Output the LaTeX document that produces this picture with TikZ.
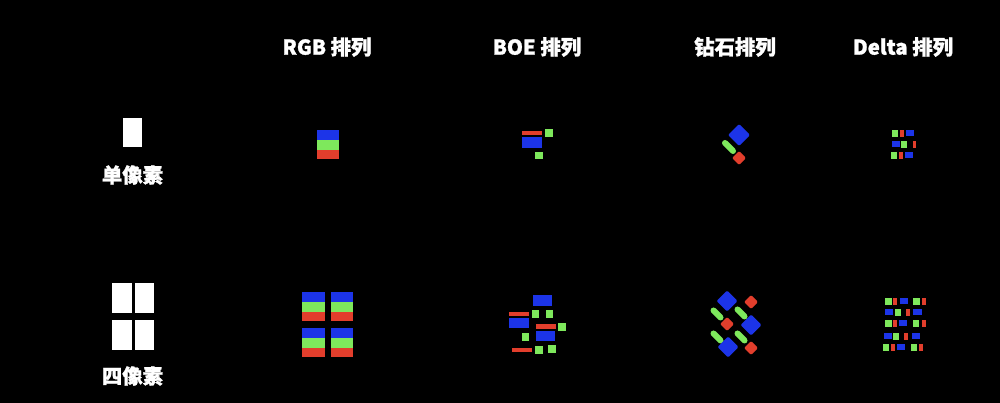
\documentclass[tikz,border=0pt]{standalone}
\usepackage{fontspec}
\newfontfamily\cjk{Noto Sans CJK SC}[BoldFeatures={FakeBold=1.3}]
\usetikzlibrary{calc}
\definecolor{pxblue}{RGB}{28,52,232}
\definecolor{pxgreen}{RGB}{126,232,92}
\definecolor{pxred}{RGB}{226,62,44}
\def\subpx[#1](#2)(#3){\fill[#1] (#2) rectangle (#3);}
\def\diapx[#1](#2,#3)(#4){\fill[#1, rounded corners=1] (#2-#4,#3) -- (#2,#3-#4) -- (#2+#4,#3) -- (#2,#3+#4) -- cycle;}
\def\pillpx(#1,#2)(#3){\draw[pxgreen, line width=1.5mm, line cap=round] (#1-#3,#2-#3) -- (#1+#3,#2+#3);}
\tikzset{
	lbl/.style={text=white, font=\cjk\bfseries\fontsize{14.5}{16}\selectfont, inner sep=0pt},
	whitepx/.style={fill=white},
}

\begin{document}
\begin{tikzpicture}[x=0.25mm, y=-0.25mm]
			%%%%% START %%%%%
			
			\fill[black] (0, 0) rectangle (1000, 403);
			\useasboundingbox (0, 0) rectangle (1000, 403);
			
			\node[lbl] (hrgb) at (327, 47) {RGB 排列};
			\node[lbl] (hboe) at (537, 47) {BOE 排列};
			\node[lbl] (hdiamond) at (735, 47) {钻石排列};
			\node[lbl] (hdelta) at (903, 47) {Delta 排列};
			
			\node[lbl] (single) at (132.5, 175) {单像素};
			\node[lbl] (quad) at (132.5, 376) {四像素};
			
			\subpx[whitepx](123, 118)(142, 147)
			\subpx[whitepx](112, 283)(132, 313)
			\subpx[whitepx](135, 283)(154, 313)
			\subpx[whitepx](112, 320)(132, 350)
			\subpx[whitepx](135, 320)(154, 350)
			
			%% RGB
			\subpx[pxblue](317, 130)(339, 140)
			\subpx[pxgreen](317, 140)(339, 150)
			\subpx[pxred](317, 150)(339, 159)
			
			\subpx[pxblue](302, 292)(325, 302)
			\subpx[pxgreen](302, 302)(325, 312)
			\subpx[pxred](302, 312)(325, 321)
			\subpx[pxblue](331, 292)(353, 302)
			\subpx[pxgreen](331, 302)(353, 312)
			\subpx[pxred](331, 312)(353, 321)
			\subpx[pxblue](302, 328)(325, 338)
			\subpx[pxgreen](302, 338)(325, 348)
			\subpx[pxred](302, 348)(325, 357)
			\subpx[pxblue](331, 328)(353, 338)
			\subpx[pxgreen](331, 338)(353, 348)
			\subpx[pxred](331, 348)(353, 357)
			
			%% BOE
			\subpx[pxred](522, 131)(542, 135)
			\subpx[pxblue](522, 137)(542, 148)
			\subpx[pxgreen](545, 129)(553, 137)
			\subpx[pxgreen](535, 152)(543, 159)
			
			\subpx[pxblue](533, 295)(552, 306)
			\subpx[pxred](509, 312)(529, 316)
			\subpx[pxgreen](532, 310)(539, 318)
			\subpx[pxgreen](546, 310)(553, 318)
			\subpx[pxblue](509, 318)(529, 328)
			\subpx[pxred](536, 324)(556, 329)
			\subpx[pxgreen](558, 323)(566, 331)
			\subpx[pxblue](536, 331)(555, 341)
			\subpx[pxgreen](522, 333)(529, 341)
			\subpx[pxred](512, 348)(532, 352)
			\subpx[pxgreen](535, 346)(543, 354)
			\subpx[pxgreen](548, 345)(556, 353)
			
			%% diamond
			\diapx[pxblue](739, 135)(11)
			\pillpx(729, 147)(4)
			\diapx[pxred](739, 158)(7)
			
			\diapx[pxblue](727, 301)(10.5)
			\diapx[pxred](751, 302)(7)
			\pillpx(717, 314)(3.5)
			\pillpx(741, 313)(3.5)
			\diapx[pxred](727, 324)(7)
			\diapx[pxblue](751, 325)(10.5)
			\pillpx(717, 337)(3.5)
			\pillpx(741, 337)(3.5)
			\diapx[pxblue](728, 347)(10.5)
			\diapx[pxred](751, 348)(7)
			
			%% Delta
			\subpx[pxgreen](892, 130)(898, 137)
			\subpx[pxred](900, 130)(904, 137)
			\subpx[pxblue](906, 130.5)(914, 136.5)
			\subpx[pxblue](892, 141.5)(900, 147.5)
			\subpx[pxgreen](901, 141)(907, 148)
			\subpx[pxred](913, 141)(916, 148)
			\subpx[pxgreen](891, 152)(897, 159)
			\subpx[pxred](899, 152)(903, 159)
			\subpx[pxblue](905, 152.5)(913, 158.5)
			
			\subpx[pxgreen](885, 298)(892, 305)
			\subpx[pxred](893, 298)(897, 305)
			\subpx[pxblue](900, 298.5)(908, 304.5)
			\subpx[pxgreen](913, 298)(920, 305)
			\subpx[pxred](922, 298)(926, 305)
			\subpx[pxblue](885, 309.5)(893, 315.5)
			\subpx[pxgreen](895, 309)(901, 316)
			\subpx[pxred](906, 309)(910, 316)
			\subpx[pxblue](913, 309.5)(922, 315.5)
			\subpx[pxgreen](885, 320)(892, 327)
			\subpx[pxred](893, 320)(897, 327)
			\subpx[pxblue](899, 320.5)(907, 326.5)
			\subpx[pxgreen](913, 320)(919, 327)
			\subpx[pxred](922, 320)(926, 327)
			\subpx[pxblue](884, 333.5)(892, 339.5)
			\subpx[pxgreen](893, 333)(899, 340)
			\subpx[pxred](904, 333)(908, 340)
			\subpx[pxblue](912, 333.5)(920, 339.5)
			\subpx[pxgreen](883, 344)(889, 351)
			\subpx[pxred](891, 344)(895, 351)
			\subpx[pxblue](897, 344.5)(905, 350.5)
			\subpx[pxgreen](911, 344)(917, 351)
			\subpx[pxred](919, 344)(923, 351)
			
			%% END %%%%%
\end{tikzpicture}
\end{document}
